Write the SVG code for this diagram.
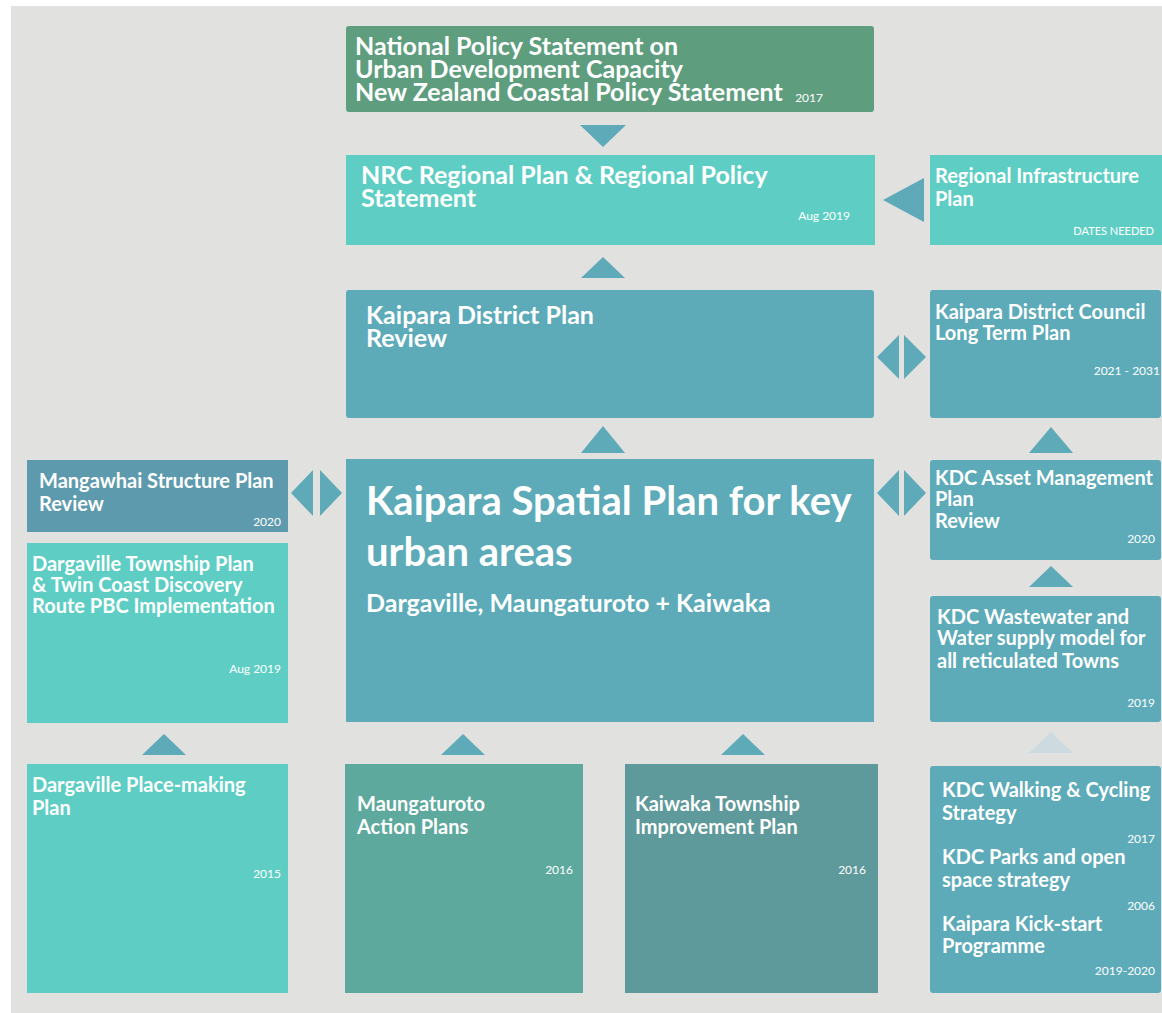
<svg xmlns="http://www.w3.org/2000/svg" width="1162" height="1013" viewBox="0 0 1162 1013">
<style>
.t{font-family:Lato,"Liberation Sans",sans-serif;font-weight:700;fill:#ffffff}
.m{font-size:20px}
.b{font-size:25px}
.d{font-family:Lato,"Liberation Sans",sans-serif;font-weight:400;fill:#ffffff;font-size:12px;text-anchor:end}
.tri{fill:#5eaab8}
.teal{fill:#5ecec4}
.blue{fill:#5dabb9}
</style>
<rect x="0" y="0" width="1162" height="1013" fill="#ffffff"/>
<rect x="11" y="6" width="1151" height="1007" fill="#e1e1df"/>

<g id="connectors">
<polygon class="tri" points="580,125 626,125 603,147"/>
<polygon class="tri" points="883,200 924,178 924,222"/>
<polygon class="tri" points="581,278 625,278 603,257"/>
<polygon class="tri" points="877,357 899,335 899,379"/>
<polygon class="tri" points="904,335 926,357 904,379"/>
<polygon class="tri" points="581,453 625,453 603,426"/>
<polygon class="tri" points="1029,453 1073,453 1051,427"/>
<polygon class="tri" points="291,493 313,470 313,516"/>
<polygon class="tri" points="320,470 342,493 320,516"/>
<polygon class="tri" points="877,493 899,470 899,516"/>
<polygon class="tri" points="904,470 926,493 904,516"/>
<polygon class="tri" points="1029,587 1073,587 1051,566"/>
<polygon points="1029,753 1073,753 1051,732" fill="#cddbe0"/>
<polygon class="tri" points="142,755 186,755 164,734"/>
<polygon class="tri" points="441,755 485,755 463,734"/>
<polygon class="tri" points="721,755 765,755 743,734"/>
</g>

<g id="nps">
<rect x="346" y="26" width="528" height="86" rx="3" fill="#5e9e7f"/>
<text class="t b"><tspan x="355" y="55">National Policy Statement on</tspan><tspan x="355" y="78">Urban Development Capacity</tspan><tspan x="355" y="101">New Zealand Coastal Policy Statement</tspan></text>
<text class="d" x="823" y="102">2017</text>
</g>

<g id="nrc">
<rect class="teal" x="346" y="155" width="529" height="90"/>
<text class="t b"><tspan x="361" y="184">NRC Regional Plan &amp; Regional Policy</tspan><tspan x="361" y="207">Statement</tspan></text>
<text class="d" x="850" y="220">Aug 2019</text>
</g>

<g id="regional-infrastructure">
<rect class="teal" x="930" y="155" width="232" height="90"/>
<text class="t m"><tspan x="935" y="183">Regional Infrastructure</tspan><tspan x="935" y="206">Plan</tspan></text>
<text class="d" x="1154" y="235" style="font-size:11px">DATES NEEDED</text>
</g>

<g id="district-plan">
<rect class="blue" x="346" y="290" width="528" height="128" rx="3"/>
<text class="t b"><tspan x="366" y="324">Kaipara District Plan</tspan><tspan x="366" y="347">Review</tspan></text>
</g>

<g id="ltp">
<rect class="blue" x="930" y="290" width="231" height="128" rx="3"/>
<text class="t m"><tspan x="935" y="319">Kaipara District Council</tspan><tspan x="935" y="340">Long Term Plan</tspan></text>
<text class="d" x="1160" y="375">2021 - 2031</text>
</g>

<g id="spatial-plan">
<rect class="blue" x="346" y="459" width="528" height="263"/>
<text class="t" style="font-size:40px"><tspan x="366" y="515">Kaipara Spatial Plan for key</tspan><tspan x="366" y="566">urban areas</tspan></text>
<text class="t" x="366" y="612" style="font-size:25px">Dargaville, Maungaturoto + Kaiwaka</text>
</g>

<g id="mangawhai">
<rect x="27" y="460" width="261" height="72" fill="#5e9aad"/>
<text class="t m"><tspan x="39" y="488">Mangawhai Structure Plan</tspan><tspan x="39" y="511">Review</tspan></text>
<text class="d" x="281" y="526">2020</text>
</g>

<g id="dargaville-township">
<rect class="teal" x="27" y="543" width="261" height="180"/>
<text class="t m"><tspan x="32" y="571">Dargaville Township Plan</tspan><tspan x="32" y="592">&amp; Twin Coast Discovery</tspan><tspan x="32" y="613">Route PBC Implementation</tspan></text>
<text class="d" x="281" y="673">Aug 2019</text>
</g>

<g id="asset-management">
<rect class="blue" x="930" y="460" width="231" height="100" rx="3"/>
<text class="t m"><tspan x="935" y="485">KDC Asset Management</tspan><tspan x="935" y="506">Plan</tspan><tspan x="935" y="528">Review</tspan></text>
<text class="d" x="1155" y="543">2020</text>
</g>

<g id="wastewater">
<rect class="blue" x="930" y="596" width="231" height="126" rx="3"/>
<text class="t m"><tspan x="937" y="624">KDC Wastewater and</tspan><tspan x="937" y="645">Water supply model for</tspan><tspan x="937" y="668">all reticulated Towns</tspan></text>
<text class="d" x="1155" y="707">2019</text>
</g>

<g id="walking-cycling">
<rect class="blue" x="930" y="766" width="231" height="227" rx="3"/>
<text class="t m"><tspan x="942" y="797">KDC Walking &amp; Cycling</tspan><tspan x="942" y="820">Strategy</tspan></text>
<text class="d" x="1155" y="843">2017</text>
<text class="t m"><tspan x="942" y="864">KDC Parks and open</tspan><tspan x="942" y="887">space strategy</tspan></text>
<text class="d" x="1155" y="910">2006</text>
<text class="t m"><tspan x="942" y="931">Kaipara Kick-start</tspan><tspan x="942" y="953">Programme</tspan></text>
<text class="d" x="1155" y="975">2019-2020</text>
</g>

<g id="place-making">
<rect class="teal" x="27" y="764" width="261" height="229"/>
<text class="t m"><tspan x="32" y="792">Dargaville Place-making</tspan><tspan x="32" y="815">Plan</tspan></text>
<text class="d" x="281" y="878">2015</text>
</g>

<g id="maungaturoto">
<rect x="345" y="764" width="238" height="229" fill="#5ea99d"/>
<text class="t m"><tspan x="357" y="811">Maungaturoto</tspan><tspan x="357" y="834">Action Plans</tspan></text>
<text class="d" x="573" y="874">2016</text>
</g>

<g id="kaiwaka">
<rect x="625" y="764" width="253" height="229" fill="#5e999b"/>
<text class="t m"><tspan x="635" y="811">Kaiwaka Township</tspan><tspan x="635" y="834">Improvement Plan</tspan></text>
<text class="d" x="866" y="874">2016</text>
</g>
</svg>
